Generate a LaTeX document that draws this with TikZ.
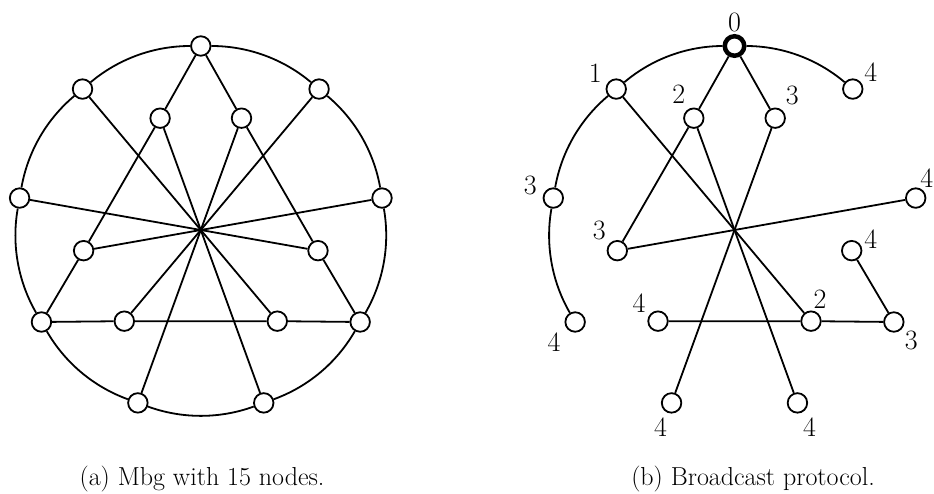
\documentclass[tikz,border=0pt]{standalone}
\usetikzlibrary{calc}
\begin{document}
\begin{tikzpicture}[x=1pt,y=1pt,
  vtx/.style={circle,draw,fill=white,line width=1.8pt,minimum size=19.5pt,inner sep=0pt},
  src/.style={vtx,line width=4.5pt},
  edge/.style={line width=1.8pt},
  arcr/.style={edge,bend right=20,looseness=.88},
  arcl/.style={edge,bend left=20,looseness=.88},
  lbl/.style={inner sep=0pt,font=\fontsize{28}{32}\selectfont},
  captxt/.style={inner sep=0pt,anchor=base,font=\fontsize{26}{30}\selectfont}]
\useasboundingbox (0,0) rectangle (934,-494);
\coordinate (A) at (200.8,-230);
\coordinate (B) at (734.5,-230);
\def\R{184}\def\r{119}
% ---------- left graph: nodes
\foreach \a in {10,50,...,330} \node[vtx] (ao\a) at ($(A)+(\a:\R)$) {};
\foreach \a in {70,110,190,230,310,350} \node[vtx] (ai\a) at ($(A)+(\a:\r)$) {};
% ---------- left graph: edges
\foreach \a in {10,50,...,330} {
  \pgfmathtruncatemacro\b{mod(\a+40,360)}
  \draw[arcr] (ao\a) to (ao\b);
}
\draw[edge] (ao90)--(ai110)--(ai190)--(ao210)--(ai230)--(ai310)--(ao330)--(ai350)--(ai70)--(ao90);
\foreach \p/\q in {130/310,170/350,250/70,290/110,10/190,50/230}
  \draw[edge] (ao\p)--(ai\q);
% ---------- right graph: nodes
\foreach \a in {10,50,130,170,210,250,290,330} \node[vtx] (bo\a) at ($(B)+(\a:\R)$) {};
\node[src] (bo90) at ($(B)+(90:\R)$) {};
\foreach \a in {70,110,190,230,310,350} \node[vtx] (bi\a) at ($(B)+(\a:\r)$) {};
% ---------- right graph: edges
\draw[arcl] (bo90) to (bo50);
\draw[arcr] (bo90) to (bo130);
\draw[arcr] (bo130) to (bo170);
\draw[arcr] (bo170) to (bo210);
\draw[edge] (bo90)--(bi110)--(bi190);
\draw[edge] (bo90)--(bi70);
\draw[edge] (bi350)--(bo330);
\draw[edge] (bi230)--(bi310)--(bo330);
\foreach \p/\q in {bo130/bi310,bi110/bo290,bi70/bo250,bi190/bo10}
  \draw[edge] (\p)--(\q);
% ---------- right graph: labels
\node[lbl] (l90)  at ($(bo90)+(0,24)$) {0};
\node[lbl] (l130) at ($(bo130)+(-21,16)$) {1};
\node[lbl] (l50)  at ($(bo50)+(18,17)$) {4};
\node[lbl] (m110) at ($(bi110)+(-15,24)$) {2};
\node[lbl] (m70)  at ($(bi70)+(17,23)$) {3};
\node[lbl] (l170) at ($(bo170)+(-23,13)$) {3};
\node[lbl] (l10)  at ($(bo10)+(11,19.5)$) {4};
\node[lbl] (m190) at ($(bi190)+(-18,20.5)$) {3};
\node[lbl] (m350) at ($(bi350)+(19,11.5)$) {4};
\node[lbl] (l210) at ($(bo210)+(-21,-20)$) {4};
\node[lbl] (m230) at ($(bi230)+(-19,18.5)$) {4};
\node[lbl] (m310) at ($(bi310)+(9,22)$) {2};
\node[lbl] (l330) at ($(bo330)+(17.5,-18)$) {3};
\node[lbl] (l250) at ($(bo250)+(-11,-24)$) {4};
\node[lbl] (l290) at ($(bo290)+(12,-24)$) {4};
% ---------- captions
\node[captxt] (capa) at (202,-485) {(a) Mbg with 15 nodes.};
\node[captxt] (capb) at (753,-485) {(b) Broadcast protocol.};
\end{tikzpicture}
\end{document}
